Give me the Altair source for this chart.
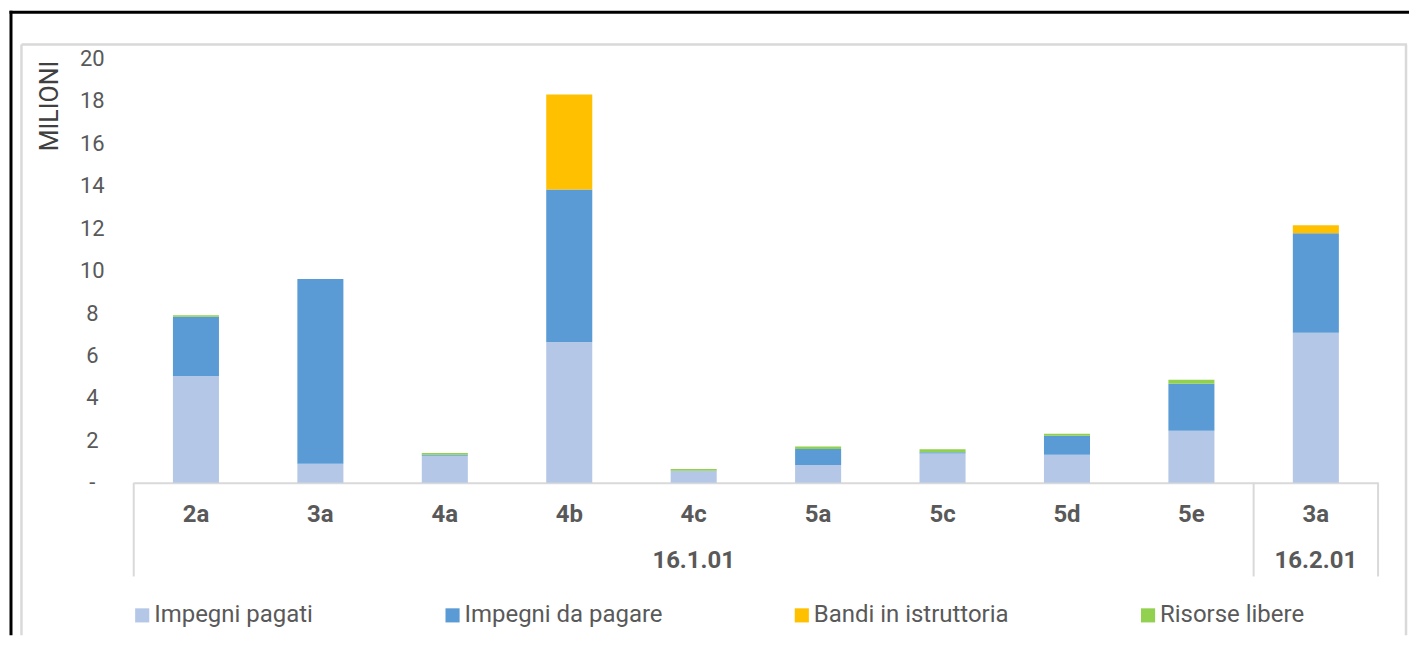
import altair as alt
import pandas as pd

# ---- data ----
gruppi = ["16.1.01"] * 9 + ["16.2.01"]
misure = ["2a", "3a", "4a", "4b", "4c", "5a", "5c", "5d", "5e", "3a"]
serie = ["Impegni pagati", "Impegni da pagare", "Bandi in istruttoria", "Risorse libere"]
colori = ["#B4C7E7", "#5B9BD5", "#FFC000", "#92D050"]
impegni_pagati = [5.03, 0.89, 1.27, 6.63, 0.56, 0.83, 1.38, 1.32, 2.45, 7.07]
impegni_da_pagare = [2.80, 8.71, 0.05, 7.20, 0.00, 0.76, 0.05, 0.89, 2.22, 4.69]
bandi_in_istruttoria = [0, 0, 0, 4.47, 0, 0, 0, 0, 0, 0.38]
risorse_libere = [0.07, 0, 0.08, 0, 0.08, 0.12, 0.14, 0.10, 0.18, 0]
y_ticks = [0, 2, 4, 6, 8, 10, 12, 14, 16, 18, 20]

keys = [f"{g}|{m}" for g, m in zip(gruppi, misure)]
rows = []
for i, k in enumerate(keys):
    for o, (s, vals) in enumerate(zip(serie, [impegni_pagati, impegni_da_pagare,
                                             bandi_in_istruttoria, risorse_libere])):
        rows.append({"key": k, "serie": s, "ordine": o, "valore": vals[i]})
df = pd.DataFrame(rows)

# group label at the middle category of each group, separators at group edges
grp_names = list(dict.fromkeys(gruppi))
grp_center, grp_first, grp_last = [], [], []
for g in grp_names:
    idx = [i for i, x in enumerate(gruppi) if x == g]
    grp_center.append(keys[idx[len(idx) // 2]])
    grp_first.append(keys[idx[0]])
    grp_last.append(keys[idx[-1]])
grp_df = pd.DataFrame({"key": grp_center, "gruppo": grp_names})
sep_left_df = pd.DataFrame({"key": grp_first})
sep_right_df = pd.DataFrame({"key": [grp_last[-1]]})

W, H = 1247, 425
FONT = "Roboto"
GRAY = "#595959"
LINE = "#d9d9d9"

xscale = alt.Scale(domain=keys, paddingInner=0, paddingOuter=0)
xaxis = alt.Axis(title=None, labelExpr="split(datum.label, '|')[1]", labelAngle=0,
                 labelFont=FONT, labelFontSize=24, labelFontWeight="bold",
                 labelColor=GRAY, labelPadding=20, ticks=False, tickSize=0,
                 domainColor=LINE, domainWidth=2, labelBaseline="top", grid=False)

bars = alt.Chart(df).mark_bar(width=alt.RelativeBandSize(0.37)).encode(
    x=alt.X("key:N", scale=xscale, sort=keys, axis=xaxis),
    y=alt.Y("valore:Q", stack="zero", scale=alt.Scale(domain=[0, 20], nice=False),
            axis=alt.Axis(title="MILIONI", values=y_ticks,
                          labelExpr="datum.value == 0 ? '-' : datum.label",
                          labelFont=FONT, labelFontSize=22, labelColor=GRAY,
                          labelAlign="center", labelBaseline="middle", labelPadding=42,
                          ticks=False, tickSize=0, domain=False, grid=False,
                          titleFont=FONT, titleFontSize=25, titleFontWeight="normal",
                          titleColor="#404040", titleAngle=270, titleX=-84, titleY=47,
                          titleAlign="center", titleBaseline="middle")),
    color=alt.Color("serie:N", scale=alt.Scale(domain=serie, range=colori),
                    legend=alt.Legend(title=None, orient="none", legendX=-3.5, legendY=546,
                                      direction="horizontal", columns=4,
                                      symbolType="square", symbolSize=200,
                                      symbolStrokeWidth=0, labelFont=FONT, labelFontSize=24,
                                      labelColor=GRAY, labelOffset=0, columnPadding=127,
                                      labelLimit=400, padding=0)),
    order=alt.Order("ordine:Q", sort="ascending"),
)

group_text = alt.Chart(grp_df).mark_text(font=FONT, fontSize=24, fontWeight="bold",
                                         color=GRAY, baseline="middle").encode(
    x=alt.X("key:N", scale=xscale, sort=keys, axis=xaxis),
    y=alt.value(H + 79),
    text="gruppo:N",
)

sep_left = alt.Chart(sep_left_df).mark_rule(color=LINE, strokeWidth=2).encode(
    x=alt.X("key:N", scale=xscale, sort=keys, axis=xaxis, bandPosition=0),
    y=alt.value(H), y2=alt.value(H + 94),
)
sep_right = alt.Chart(sep_right_df).mark_rule(color=LINE, strokeWidth=2).encode(
    x=alt.X("key:N", scale=xscale, sort=keys, axis=xaxis, bandPosition=1),
    y=alt.value(H), y2=alt.value(H + 94),
)

dummy = pd.DataFrame({"d": [0]})
BOTTOM = 578
RIGHT = 1278
frame_top = alt.Chart(dummy).mark_rule(color="black", strokeWidth=3).encode(
    x=alt.value(-124.5), x2=alt.value(RIGHT), y=alt.value(-46.5))
frame_left = alt.Chart(dummy).mark_rule(color="black", strokeWidth=3).encode(
    x=alt.value(-123), y=alt.value(-48), y2=alt.value(BOTTOM))
inner_top = alt.Chart(dummy).mark_rule(color=LINE, strokeWidth=2.5).encode(
    x=alt.value(-112.5), x2=alt.value(RIGHT - 2), y=alt.value(-14))
inner_left = alt.Chart(dummy).mark_rule(color=LINE, strokeWidth=2.5).encode(
    x=alt.value(-112.5), y=alt.value(-14), y2=alt.value(BOTTOM))
inner_right = alt.Chart(dummy).mark_rule(color=LINE, strokeWidth=2.5).encode(
    x=alt.value(RIGHT - 3), y=alt.value(-14), y2=alt.value(BOTTOM))

chart = alt.layer(
    frame_top, frame_left, inner_top, inner_left, inner_right,
    bars, group_text, sep_left, sep_right,
).properties(width=W, height=H, padding=0, background="white").configure_view(strokeWidth=0)

chart.save("out.html", embed_options={"renderer": "svg", "actions": False})
